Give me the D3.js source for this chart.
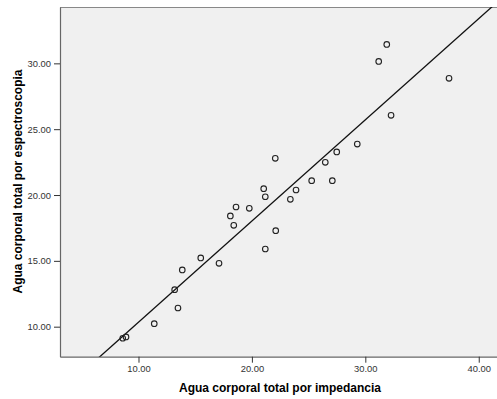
<!DOCTYPE html>
<html>
<head>
<meta charset="utf-8">
<script src="https://cdn.jsdelivr.net/npm/d3@7"></script>
<style>
	body { margin: 0; background: #fff; }
	svg { display: block; }
	.tick text { font-family: Arial, "Liberation Sans", sans-serif; font-size: 9.4px; fill: #333; }
	.title { font-family: Arial, "Liberation Sans", sans-serif; font-size: 12px; font-weight: bold; fill: #000; }
</style>
</head>
<body>
<div id="chart"></div>
<script>
// values
var impedancia = [8.61, 8.90, 11.39, 13.19, 13.48, 13.86, 15.49, 17.10, 18.10, 18.40, 18.60, 19.77, 21.04, 21.18,
	21.18, 22.06, 22.10, 23.39, 23.89, 25.27, 26.47, 27.09, 27.48, 29.29, 31.18, 31.89, 32.27, 37.38];
var espectroscopia = [9.12, 9.22, 10.23, 12.81, 11.42, 14.31, 15.22, 14.81, 18.41, 17.70, 19.09, 18.99, 20.48, 19.87,
	15.90, 22.79, 17.29, 19.67, 20.38, 21.09, 22.48, 21.09, 23.27, 23.87, 30.15, 31.44, 26.05, 28.86];
var xTicks = [10, 20, 30, 40];
var yTicks = [10, 15, 20, 25, 30];
var fitIntercept = 2.653;
var fitSlope = 0.7686;

var width = 497, height = 399;
var margin = {top: 7, right: 0, bottom: 42.3, left: 60};

var svg = d3.select("#chart").append("svg")
	.attr("width", width)
	.attr("height", height);

var x = d3.scaleLinear().domain([3.08, 41.61]).range([margin.left, width - margin.right]);
var y = d3.scaleLinear().domain([7.72, 34.28]).range([height - margin.bottom, margin.top]);

svg.append("rect")
	.attr("x", margin.left)
	.attr("y", margin.top)
	.attr("width", width - margin.left - margin.right)
	.attr("height", height - margin.top - margin.bottom)
	.attr("fill", "#f0f0f0");

svg.append("clipPath").attr("id", "plot-clip")
	.append("rect")
	.attr("x", margin.left)
	.attr("y", margin.top)
	.attr("width", width - margin.left - margin.right)
	.attr("height", height - margin.top - margin.bottom);

// border top
svg.append("line")
	.attr("x1", margin.left).attr("x2", width)
	.attr("y1", margin.top + 0.5).attr("y2", margin.top + 0.5)
	.attr("stroke", "#888").attr("stroke-width", 1);

var xAxis = svg.append("g")
	.attr("transform", `translate(0, ${height - margin.bottom})`)
	.call(d3.axisBottom(x).tickValues(xTicks).tickFormat(d3.format(".2f")).tickSize(6).tickSizeOuter(0));

var yAxis = svg.append("g")
	.attr("transform", `translate(${margin.left}, 0)`)
	.call(d3.axisLeft(y).tickValues(yTicks).tickFormat(d3.format(".2f")).tickSize(6).tickSizeOuter(0));

[xAxis, yAxis].forEach(function(ax) {
	ax.select(".domain").attr("stroke", "#666").attr("stroke-width", 1.2);
	ax.selectAll(".tick line").attr("stroke", "#333");
});

// fit line
svg.append("line")
	.attr("clip-path", "url(#plot-clip)")
	.attr("x1", x(3.08)).attr("y1", y(fitIntercept + fitSlope * 3.08))
	.attr("x2", x(41.61)).attr("y2", y(fitIntercept + fitSlope * 41.61))
	.attr("stroke", "#111").attr("stroke-width", 1.3);

var points = impedancia.map((v, i) => ({x: v, y: espectroscopia[i]}));
svg.append("g").selectAll("circle")
	.data(points)
	.enter()
	.append("circle")
	.attr("cx", d => x(d.x))
	.attr("cy", d => y(d.y))
	.attr("r", 2.8)
	.attr("fill", "none")
	.attr("stroke", "#222")
	.attr("stroke-width", 1.1);

svg.append("text")
	.attr("class", "title")
	.attr("x", 280)
	.attr("y", 391.5)
	.attr("text-anchor", "middle")
	.text("Agua corporal total por impedancia");

svg.append("text")
	.attr("class", "title")
	.attr("transform", "translate(22, 181.5) rotate(-90)")
	.attr("text-anchor", "middle")
	.text("Agua corporal total por espectroscopia");
</script>
</body>
</html>
